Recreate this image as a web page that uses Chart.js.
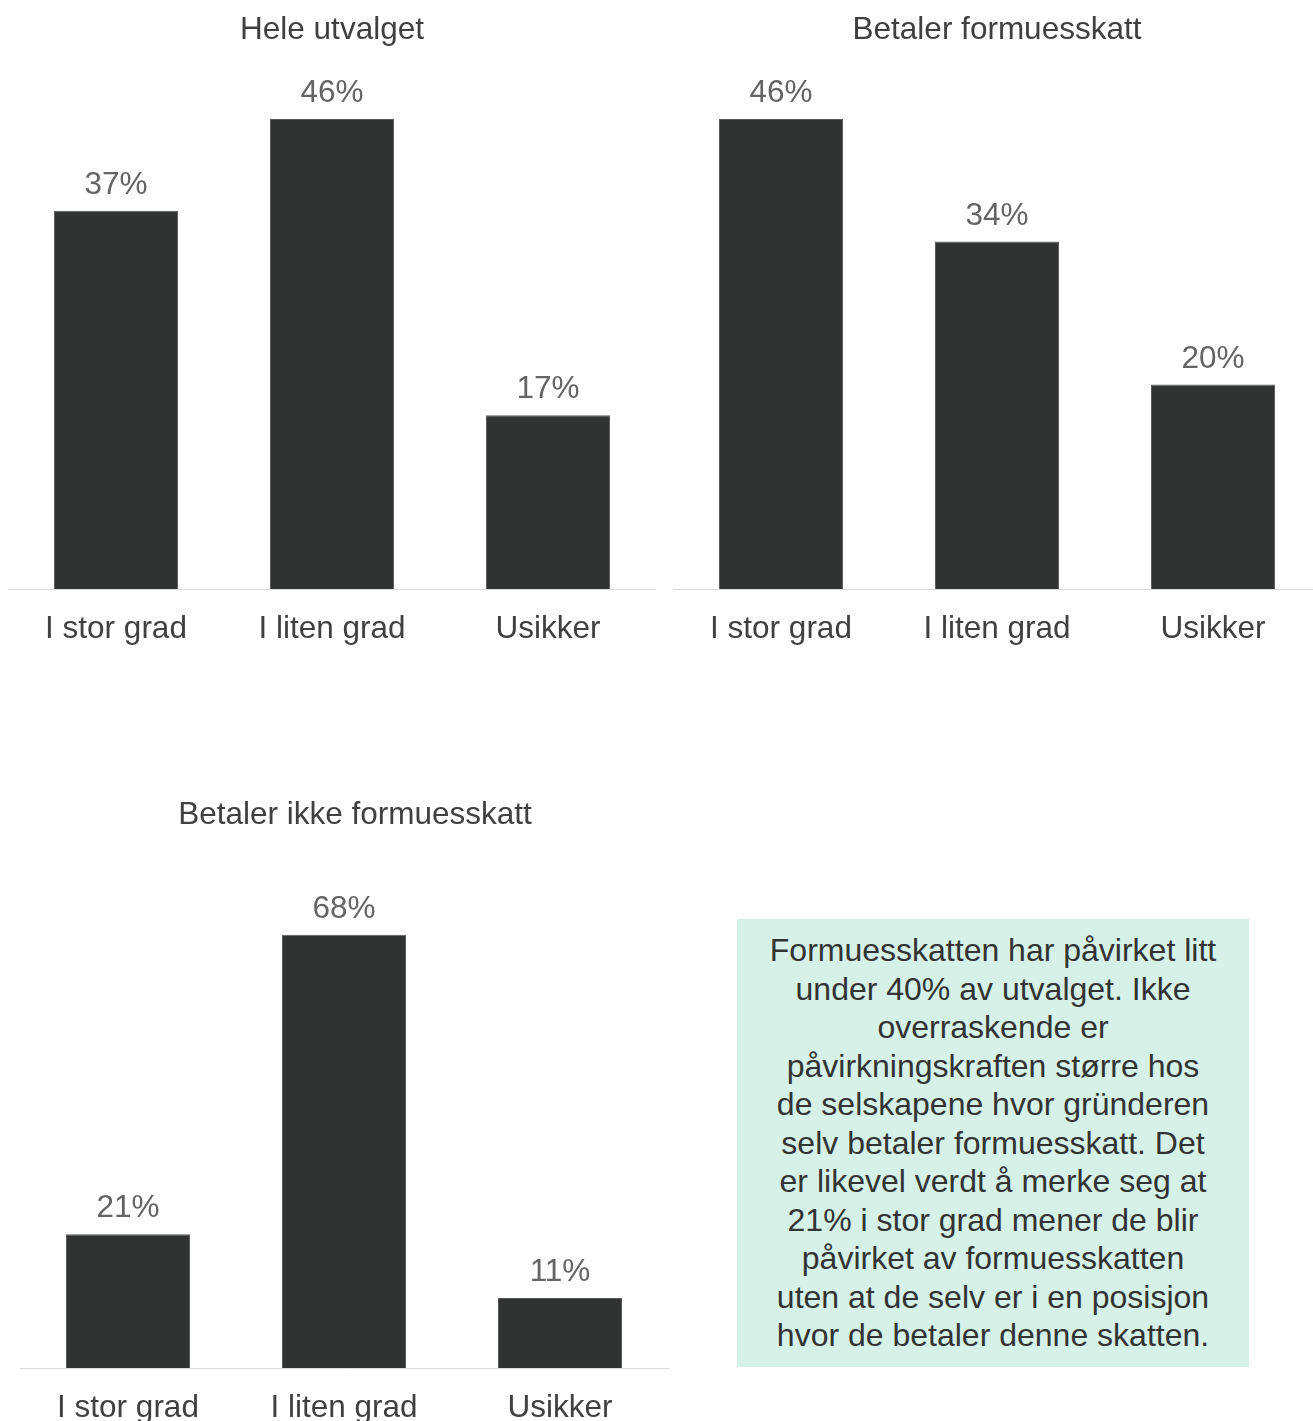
<!DOCTYPE html>
<html lang="no">
<head>
<meta charset="utf-8">
<title>Formuesskatt</title>
<script src="https://cdn.jsdelivr.net/npm/chart.js@4.4.1/dist/chart.umd.min.js"></script>
<style>
    html, body {
        margin: 0;
        padding: 0;
        background: #ffffff;
        overflow: hidden;
        width: 1313px;
        height: 1421px;
    }
    canvas {
        position: absolute;
    }
    #chartHele { left: 8px; top: 0px; }
    #chartBetaler { left: 673px; top: 0px; }
    #chartIkke { left: 20px; top: 780px; }
    .comment-box {
        position: absolute;
        left: 737px;
        top: 919px;
        width: 512px;
        height: 448px;
        background: #d5f1e8;
        color: #333333;
        font-family: "Liberation Sans", Arial, sans-serif;
        font-size: 32px;
        line-height: 38.5px;
        text-align: center;
        display: flex;
        align-items: center;
        justify-content: center;
    }
</style>
</head>
<body>

<canvas id="chartHele" width="648" height="660"></canvas>
<canvas id="chartBetaler" width="648" height="660"></canvas>
<canvas id="chartIkke" width="670" height="659"></canvas>

<div class="comment-box">
    <div>Formuesskatten har påvirket litt<br>under 40% av utvalget. Ikke<br>overraskende er<br>påvirkningskraften større hos<br>de selskapene hvor gründeren<br>selv betaler formuesskatt. Det<br>er likevel verdt å merke seg at<br>21% i stor grad mener de blir<br>påvirket av formuesskatten<br>uten at de selv er i en posisjon<br>hvor de betaler denne skatten.</div>
</div>

<script>
/*
==================================
    Data
==================================
*/
var categories = ['I stor grad', 'I liten grad', 'Usikker'];
var heleUtvalget = [37, 46, 17];
var betalerFormuesskatt = [46, 34, 20];
var betalerIkkeFormuesskatt = [21, 68, 11];

/*
==================================
    Defaults
==================================
*/
var fontFamily = '"Liberation Sans", Arial, sans-serif';
var fontSize = 31.5;
Chart.defaults.font.family = fontFamily;
Chart.defaults.font.size = fontSize;

// percentage written above every bar
var valueLabels = {
    id: 'valueLabels',
    afterDatasetsDraw: function(chart){
        var ctx = chart.ctx;
        var meta = chart.getDatasetMeta(0);
        var values = chart.data.datasets[0].data;
        ctx.save();
        ctx.font = fontSize + 'px ' + fontFamily;
        ctx.fillStyle = '#646464';
        ctx.textAlign = 'center';
        ctx.textBaseline = 'alphabetic';
        meta.data.forEach(function(bar, i){
            ctx.fillText(values[i] + '%', bar.x, bar.y - 17);
        });
        ctx.restore();
    }
};

/*
==================================
    Bar chart builder
==================================
*/
function barChart(id, title, values, yMax, titlePad, rightGap){
    var ctx = document.getElementById(id);
    return new Chart(ctx, {
        type: 'bar',
        data: {
            labels: categories,
            datasets: [{
                data: values,
                backgroundColor: '#313332',
                borderColor: '#5a5a5a',
                borderWidth: 1,
                categoryPercentage: 1,
                barPercentage: 0.574
            }]
        },
        options: {
            responsive: false,
            animation: false,
            devicePixelRatio: 1,
            layout: { padding: 0 },
            plugins: {
                legend: { display: false },
                tooltip: { enabled: false },
                title: {
                    display: true,
                    text: title,
                    color: '#404040',
                    font: { size: fontSize, weight: 'normal' },
                    padding: titlePad
                }
            },
            scales: {
                x: {
                    grid: { display: false, drawTicks: false },
                    border: { display: true, color: '#d9d9d9', width: 1 },
                    ticks: { color: '#404040', padding: 21, font: { size: fontSize } },
                    afterFit: function(scale){ scale.height = 71; }
                },
                y: {
                    min: 0,
                    max: yMax,
                    display: rightGap > 0,
                    position: 'right',
                    grid: { display: false },
                    border: { display: false },
                    ticks: { display: false },
                    afterFit: function(scale){ scale.width = rightGap; }
                }
            }
        },
        plugins: [valueLabels]
    });
}

barChart('chartHele', 'Hele utvalget', heleUtvalget, 50, { top: 11.1, bottom: 29.1 }, 0);
barChart('chartBetaler', 'Betaler formuesskatt', betalerFormuesskatt, 50, { top: 11.1, bottom: 29.1 }, 0);
barChart('chartIkke', 'Betaler ikke formuesskatt', betalerIkkeFormuesskatt, 75, { top: 16.1, bottom: 56.35 }, 22);
</script>
</body>
</html>
